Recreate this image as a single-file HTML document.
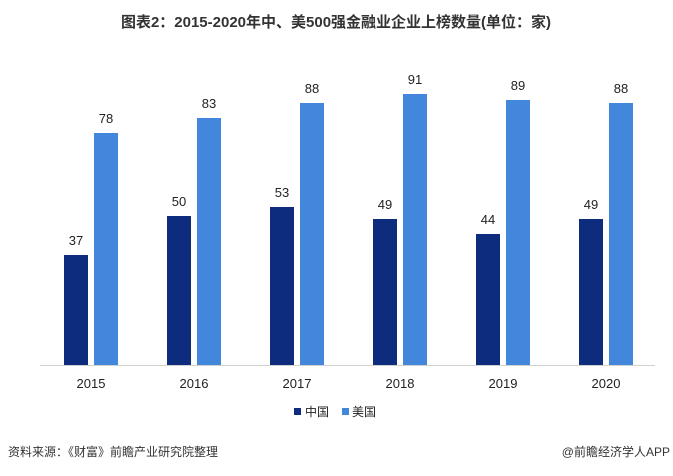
<!DOCTYPE html>
<html><head><meta charset="utf-8"><style>
body{margin:0;width:673px;height:471px;background:#fff;overflow:hidden;font-family:"Liberation Sans","Noto Sans CJK SC",sans-serif;}
</style></head><body>
<svg width="673" height="471" xmlns="http://www.w3.org/2000/svg" font-family="Liberation Sans, Noto Sans CJK SC, sans-serif">
<text x="336" y="27" text-anchor="middle" font-size="15" font-weight="bold" fill="#333">图表2：2015-2020年中、美500强金融业企业上榜数量(单位：家)</text>
<line x1="40" y1="365.5" x2="655" y2="365.5" stroke="#d0d0d0" stroke-width="1"/>
<g font-size="13" fill="#222" text-anchor="middle">
<rect x="64" y="255" width="24" height="110" fill="#0e2c7e"/><rect x="94" y="133" width="24" height="232" fill="#4287dc"/>
<text x="76" y="245">37</text><text x="106" y="123">78</text><text x="91" y="388">2015</text>
<rect x="167" y="216" width="24" height="149" fill="#0e2c7e"/><rect x="197" y="118" width="24" height="247" fill="#4287dc"/>
<text x="179" y="206">50</text><text x="209" y="108">83</text><text x="194" y="388">2016</text>
<rect x="270" y="207" width="24" height="158" fill="#0e2c7e"/><rect x="300" y="103" width="24" height="262" fill="#4287dc"/>
<text x="282" y="197">53</text><text x="312" y="93">88</text><text x="297" y="388">2017</text>
<rect x="373" y="219" width="24" height="146" fill="#0e2c7e"/><rect x="403" y="94" width="24" height="271" fill="#4287dc"/>
<text x="385" y="209">49</text><text x="415" y="84">91</text><text x="400" y="388">2018</text>
<rect x="476" y="234" width="24" height="131" fill="#0e2c7e"/><rect x="506" y="100" width="24" height="265" fill="#4287dc"/>
<text x="488" y="224">44</text><text x="518" y="90">89</text><text x="503" y="388">2019</text>
<rect x="579" y="219" width="24" height="146" fill="#0e2c7e"/><rect x="609" y="103" width="24" height="262" fill="#4287dc"/>
<text x="591" y="209">49</text><text x="621" y="93">88</text><text x="606" y="388">2020</text>
</g>
<rect x="294" y="408" width="7" height="7" fill="#0e2c7e"/><text x="305" y="416" font-size="12" fill="#222">中国</text>
<rect x="342" y="408" width="7" height="7" fill="#4287dc"/><text x="352" y="416" font-size="12" fill="#222">美国</text>
<text x="8" y="456" font-size="12" fill="#333">资料来源：《财富》前瞻产业研究院整理</text>
<text x="670" y="456" font-size="12" fill="#333" text-anchor="end">@前瞻经济学人APP</text>
</svg>
</body></html>
